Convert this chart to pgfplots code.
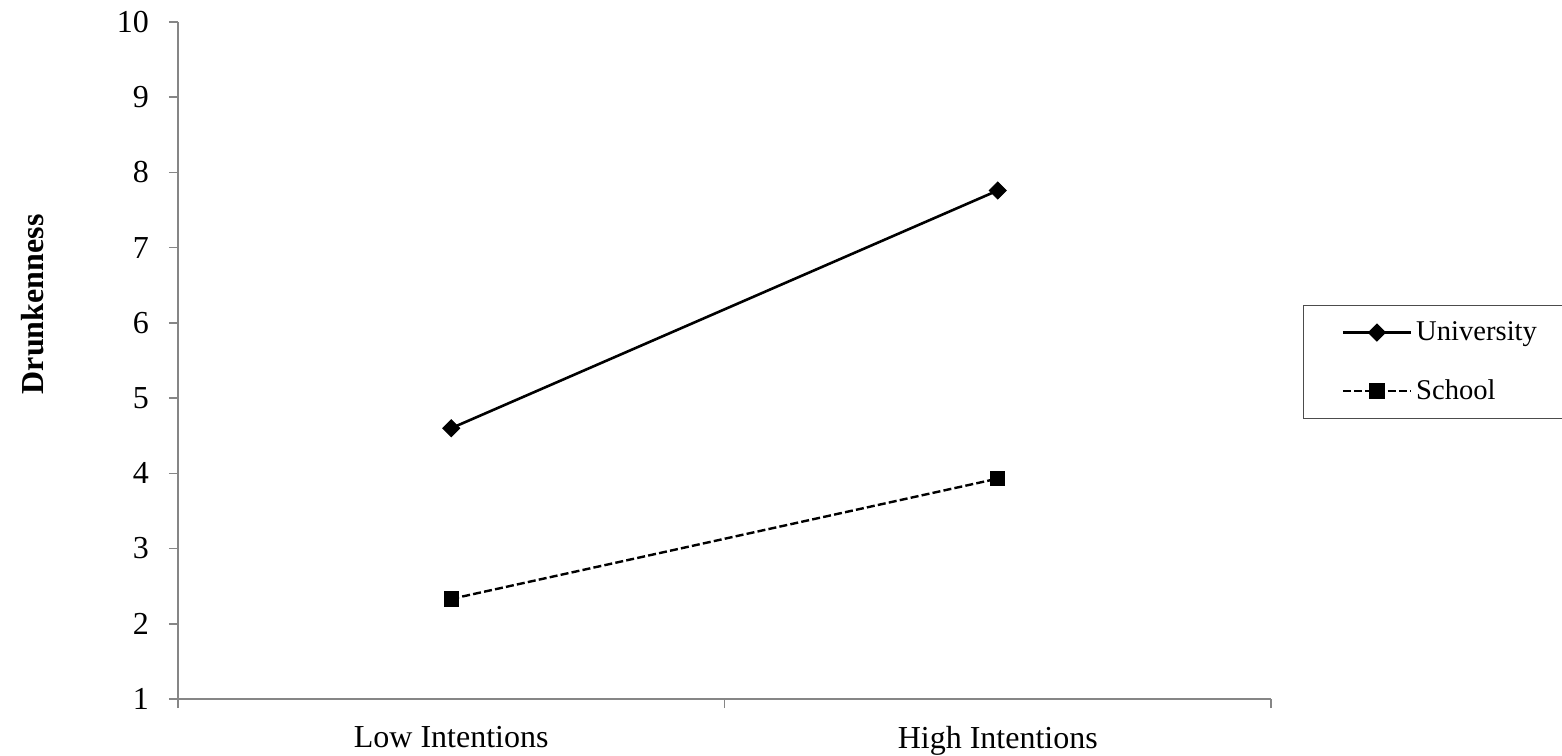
\documentclass[border=0pt]{standalone}
\usepackage{pgfplots}
\pgfplotsset{compat=1.18}
\usepackage{fontspec}
\setmainfont{Liberation Serif}

\definecolor{axgray}{HTML}{868686}

\begin{document}
\begin{tikzpicture}
% page size fixed to the reference (2 px = 1 bp)
\useasboundingbox (-89bp,-28.5bp) rectangle (692bp,349.5bp);
\begin{axis}[
    scale only axis,
    width=546.5bp, height=338.5bp,
    at={(0,0)}, anchor=south west,
    axis lines*=left,
    axis line style={axgray, line width=0.8bp},
    tick style={axgray, line width=0.8bp},
    tick align=outside,
    major tick length=4.5bp,
    xmin=-0.5, xmax=1.5,
    ymin=1, ymax=10,
    ytick={1,2,...,10},
    xtick={-0.5,0.5,1.5},
    xticklabels={},
    extra x ticks={0,1},
    extra x tick labels={Low Intentions, High Intentions},
    extra x tick style={major tick length=0pt},
    /pgf/number format/assume math mode=true,
    tick label style={font=\fontsize{16bp}{19bp}\selectfont},
    yticklabel style={xshift=-6.5bp},
    xticklabel style={yshift=-10bp},
    ylabel={\textbf{Drunkenness}},
    ylabel style={at={(axis description cs:-0.1327,0.583)}, anchor=center,
        font=\fontsize{16bp}{19bp}\selectfont},
    legend image code/.code={
        \draw[mark repeat=2, mark phase=2, #1]
            plot coordinates {(0bp,0bp) (17bp,0bp) (34bp,0bp)};
    },
    legend style={
        at={(axis description cs:1.0293,0.582)}, anchor=north west,
        draw=black!70, line width=0.6bp,
        inner xsep=19bp, inner ysep=6bp,
        row sep=14bp,
        font=\fontsize{14.3bp}{16bp}\selectfont,
        /tikz/every even column/.append style={column sep=9.5bp},
    },
    legend cell align=left,
]

\addplot[black, line width=1.3bp, mark=square*,
    mark options={solid, rotate=45, line width=0.5bp}, mark size=3bp]
coordinates {
(0,4.60)(1,7.76)
};
\addlegendentry{\makebox[75bp][l]{University}}

\addplot[black, line width=1.2bp, dash pattern=on 4bp off 1.6bp, mark=square*,
    mark options={solid, line width=0.5bp}, mark size=3.6bp]
coordinates {
(0,2.33)(1,3.93)
};
\addlegendentry{\makebox[75bp][l]{School}}

\end{axis}
\end{tikzpicture}
\end{document}
